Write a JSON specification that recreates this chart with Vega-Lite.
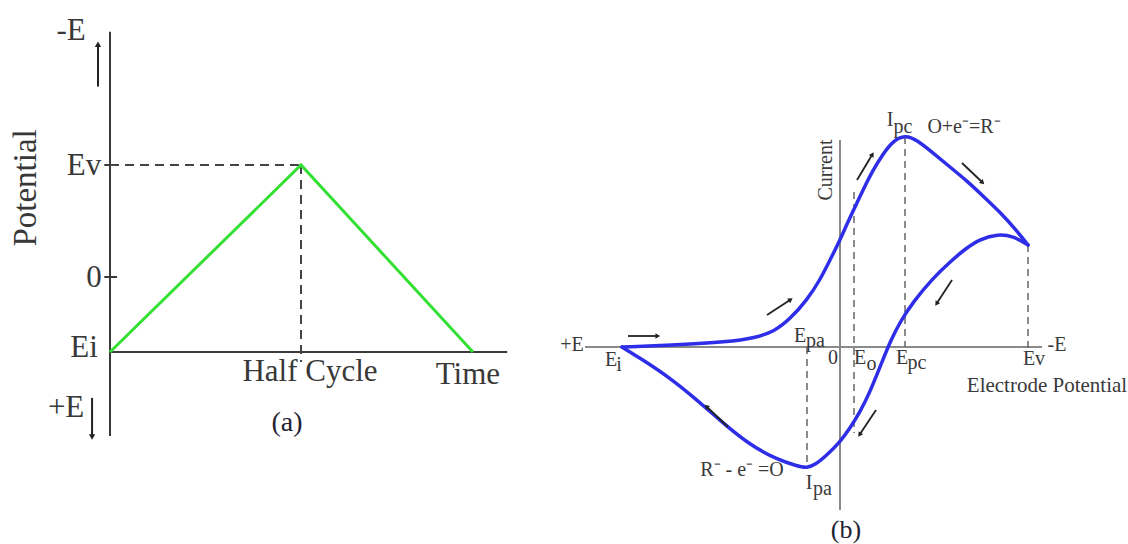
{
  "$schema": "https://vega.github.io/schema/vega-lite/v6.json",
  "background": "white",
  "padding": 0,
  "autosize": {"type": "pad"},
  "spacing": 0,
  "bounds": "flush",
  "config": {"view": {"stroke": null}, "font": "Liberation Serif"},
  "datasets": {
    "aFrame": [
      {"x": 0, "y": 2.19, "x2": 0, "y2": -1.42},
      {"x": 0, "y": -0.67, "x2": 2.08, "y2": -0.67},
      {"x": -0.03, "y": 0, "x2": 0.037, "y2": 0},
      {"x": -0.03, "y": 1, "x2": 0, "y2": 1}
    ],
    "aGuides": [
      {"x": 0, "y": 1, "x2": 1, "y2": 1},
      {"x": 1, "y": 1, "x2": 1, "y2": -0.76}
    ],
    "aSweep": [
      {"t": 0, "E": -0.67, "step": 0},
      {"t": 1, "E": 1, "step": 1},
      {"t": 1.9, "E": -0.67, "step": 2}
    ],
    "aArrows": [
      {"x": -0.063, "y": 1.70, "x2": -0.063, "y2": 2.07},
      {"x": -0.094, "y": -1.08, "x2": -0.094, "y2": -1.42}
    ],
    "aLabels": [
      {"x": -0.204, "y": 2.196, "text": "-E"},
      {"x": -0.136, "y": 0.99, "text": "Ev"},
      {"x": -0.084, "y": -0.01, "text": "0"},
      {"x": -0.136, "y": -0.63, "text": "Ei"},
      {"x": 1.047, "y": -0.85, "text": "Half Cycle"},
      {"x": 1.874, "y": -0.875, "text": "Time"},
      {"x": -0.23, "y": -1.17, "text": "+E"}
    ],
    "aCaption": [
      {"x": 0.927, "y": -1.30, "text": "(a)"}
    ],
    "bFrame": [
      {"x": -25.5, "y": 0, "x2": 20.2, "y2": 0},
      {"x": 0, "y": 20.7, "x2": 0, "y2": -16.3}
    ],
    "bGuides": [
      {"x": -3.3, "y": 0, "x2": -3.3, "y2": -12.2},
      {"x": 1.4, "y": 15.5, "x2": 1.4, "y2": -8.6},
      {"x": 6.5, "y": 21.0, "x2": 6.5, "y2": 0},
      {"x": 18.8, "y": 10.2, "x2": 18.8, "y2": -0.3}
    ],
    "cv": [
      {"branch": "forward", "k": 0, "x": -21.8, "y": 0.0},
      {"branch": "forward", "k": 1, "x": -16.3, "y": 0.2},
      {"branch": "forward", "k": 2, "x": -11.3, "y": 0.5},
      {"branch": "forward", "k": 3, "x": -8.5, "y": 0.9},
      {"branch": "forward", "k": 4, "x": -6.5, "y": 1.6},
      {"branch": "forward", "k": 5, "x": -5.0, "y": 2.8},
      {"branch": "forward", "k": 6, "x": -3.3, "y": 4.7},
      {"branch": "forward", "k": 7, "x": -2.0, "y": 6.7},
      {"branch": "forward", "k": 8, "x": -1.0, "y": 8.7},
      {"branch": "forward", "k": 9, "x": 0.0, "y": 10.7},
      {"branch": "forward", "k": 10, "x": 0.7, "y": 12.3},
      {"branch": "forward", "k": 11, "x": 1.5, "y": 14.0},
      {"branch": "forward", "k": 12, "x": 2.3, "y": 15.7},
      {"branch": "forward", "k": 13, "x": 3.3, "y": 17.7},
      {"branch": "forward", "k": 14, "x": 4.3, "y": 19.3},
      {"branch": "forward", "k": 15, "x": 5.3, "y": 20.6},
      {"branch": "forward", "k": 16, "x": 6.5, "y": 21.2},
      {"branch": "forward", "k": 17, "x": 7.7, "y": 20.7},
      {"branch": "forward", "k": 18, "x": 9.3, "y": 19.4},
      {"branch": "forward", "k": 19, "x": 11.0, "y": 18.0},
      {"branch": "forward", "k": 20, "x": 12.7, "y": 16.6},
      {"branch": "forward", "k": 21, "x": 14.3, "y": 15.1},
      {"branch": "forward", "k": 22, "x": 16.0, "y": 13.5},
      {"branch": "forward", "k": 23, "x": 17.7, "y": 11.6},
      {"branch": "forward", "k": 24, "x": 18.8, "y": 10.2},
      {"branch": "reverse", "k": 0, "x": 18.8, "y": 10.2},
      {"branch": "reverse", "k": 1, "x": 17.3, "y": 11.1},
      {"branch": "reverse", "k": 2, "x": 15.8, "y": 11.3},
      {"branch": "reverse", "k": 3, "x": 14.0, "y": 10.8},
      {"branch": "reverse", "k": 4, "x": 12.5, "y": 9.8},
      {"branch": "reverse", "k": 5, "x": 11.0, "y": 8.5},
      {"branch": "reverse", "k": 6, "x": 9.3, "y": 6.9},
      {"branch": "reverse", "k": 7, "x": 7.3, "y": 4.5},
      {"branch": "reverse", "k": 8, "x": 6.0, "y": 2.5},
      {"branch": "reverse", "k": 9, "x": 5.0, "y": 0.5},
      {"branch": "reverse", "k": 10, "x": 4.2, "y": -1.5},
      {"branch": "reverse", "k": 11, "x": 3.0, "y": -4.5},
      {"branch": "reverse", "k": 12, "x": 2.0, "y": -6.5},
      {"branch": "reverse", "k": 13, "x": 1.0, "y": -8.1},
      {"branch": "reverse", "k": 14, "x": 0.0, "y": -9.5},
      {"branch": "reverse", "k": 15, "x": -1.3, "y": -10.8},
      {"branch": "reverse", "k": 16, "x": -2.5, "y": -11.8},
      {"branch": "reverse", "k": 17, "x": -3.3, "y": -12.1},
      {"branch": "reverse", "k": 18, "x": -4.3, "y": -11.9},
      {"branch": "reverse", "k": 19, "x": -6.3, "y": -11.25},
      {"branch": "reverse", "k": 20, "x": -9.0, "y": -9.8},
      {"branch": "reverse", "k": 21, "x": -11.7, "y": -7.6},
      {"branch": "reverse", "k": 22, "x": -14.3, "y": -5.3},
      {"branch": "reverse", "k": 23, "x": -17.0, "y": -3.1},
      {"branch": "reverse", "k": 24, "x": -19.7, "y": -1.3},
      {"branch": "reverse", "k": 25, "x": -21.8, "y": 0.0}
    ],
    "bArrows": [
      {"x": -21.2, "y": 1.1, "x2": -18.3, "y2": 1.1},
      {"x": -7.3, "y": 3.2, "x2": -5.0, "y2": 4.7},
      {"x": 1.7, "y": 16.7, "x2": 3.2, "y2": 19.2},
      {"x": 12.2, "y": 18.4, "x2": 14.2, "y2": 16.5},
      {"x": 11.2, "y": 6.7, "x2": 9.7, "y2": 4.4},
      {"x": 3.6, "y": -6.3, "x2": 2.0, "y2": -8.7},
      {"x": -11.2, "y": -8.0, "x2": -13.3, "y2": -6.0}
    ],
    "bLabels": [
      {"x": -26.8, "y": 0.2, "text": "+E"},
      {"x": 21.7, "y": 0.2, "text": "-E"},
      {"x": -22.9, "y": -1.3, "text": "E"},
      {"x": -22.1, "y": -1.8, "text": "i"},
      {"x": -4.0, "y": 1.1, "text": "E"},
      {"x": -2.45, "y": 0.6, "text": "pa"},
      {"x": -0.7, "y": -1.05, "text": "0"},
      {"x": 2.0, "y": -1.1, "text": "E"},
      {"x": 3.15, "y": -1.7, "text": "o"},
      {"x": 6.2, "y": -1.1, "text": "E"},
      {"x": 7.7, "y": -1.6, "text": "pc"},
      {"x": 19.4, "y": -1.2, "text": "Ev"},
      {"x": 5.0, "y": 22.7, "text": "I"},
      {"x": 6.3, "y": 22.0, "text": "pc"},
      {"x": 12.4, "y": 22.0, "text": "O+e⁻=R⁻"},
      {"x": -9.8, "y": -12.3, "text": "R⁻ - e⁻ =O"},
      {"x": -3.1, "y": -13.6, "text": "I"},
      {"x": -1.75, "y": -14.2, "text": "pa"}
    ],
    "bTitles": [
      {"x": 20.7, "y": -3.9, "text": "Electrode Potential"}
    ],
    "bCaption": [
      {"x": 0.6, "y": -18.3, "text": "(b)"}
    ]
  },
  "hconcat": [
    {
      "width": 560,
      "height": 544,
      "layer": [
        {
          "data": {"name": "aFrame"},
          "mark": {"type": "rule", "color": "#3a3a3a", "strokeWidth": 2},
          "encoding": {
            "x": {"field": "x", "type": "quantitative", "scale": {"domain": [-0.576, 2.356], "nice": false, "zero": false}, "axis": null},
            "y": {"field": "y", "type": "quantitative", "scale": {"domain": [-2.384, 2.473], "nice": false, "zero": false}, "axis": null},
            "x2": {"field": "x2"},
            "y2": {"field": "y2"}
          }
        },
        {
          "data": {"name": "aGuides"},
          "mark": {"type": "rule", "color": "#444444", "strokeWidth": 2, "strokeDash": [9, 6]},
          "encoding": {
            "x": {"field": "x", "type": "quantitative", "scale": {"domain": [-0.576, 2.356], "nice": false, "zero": false}, "axis": null},
            "y": {"field": "y", "type": "quantitative", "scale": {"domain": [-2.384, 2.473], "nice": false, "zero": false}, "axis": null},
            "x2": {"field": "x2"},
            "y2": {"field": "y2"}
          }
        },
        {
          "data": {"name": "aSweep"},
          "mark": {"type": "line", "color": "#35e035", "strokeWidth": 3},
          "encoding": {
            "x": {"field": "t", "type": "quantitative", "scale": {"domain": [-0.576, 2.356], "nice": false, "zero": false}, "axis": null},
            "y": {"field": "E", "type": "quantitative", "scale": {"domain": [-2.384, 2.473], "nice": false, "zero": false}, "axis": null},
            "order": {"field": "step"}
          }
        },
        {
          "data": {"name": "aArrows"},
          "mark": {"type": "rule", "color": "#222222", "strokeWidth": 2},
          "encoding": {
            "x": {"field": "x", "type": "quantitative", "scale": {"domain": [-0.576, 2.356], "nice": false, "zero": false}, "axis": null},
            "y": {"field": "y", "type": "quantitative", "scale": {"domain": [-2.384, 2.473], "nice": false, "zero": false}, "axis": null},
            "x2": {"field": "x2"},
            "y2": {"field": "y2"}
          }
        },
        {
          "data": {"name": "aArrows"},
          "transform": [{"calculate": "atan2(datum.x2 - datum.x, datum.y2 - datum.y) * 180 / PI", "as": "heading"}],
          "mark": {"type": "point", "shape": "triangle", "filled": true, "color": "#222222", "size": 40, "opacity": 1},
          "encoding": {
            "x": {"field": "x2", "type": "quantitative", "scale": {"domain": [-0.576, 2.356], "nice": false, "zero": false}, "axis": null},
            "y": {"field": "y2", "type": "quantitative", "scale": {"domain": [-2.384, 2.473], "nice": false, "zero": false}, "axis": null},
            "angle": {"field": "heading", "type": "quantitative", "scale": null}
          }
        },
        {
          "data": {"name": "aLabels"},
          "mark": {"type": "text", "font": "Liberation Serif", "fontSize": 31, "color": "#383838", "align": "center", "baseline": "middle"},
          "encoding": {
            "x": {"field": "x", "type": "quantitative", "scale": {"domain": [-0.576, 2.356], "nice": false, "zero": false}, "axis": null},
            "y": {"field": "y", "type": "quantitative", "scale": {"domain": [-2.384, 2.473], "nice": false, "zero": false}, "axis": null},
            "text": {"field": "text"}
          }
        },
        {
          "data": {"name": "aCaption"},
          "mark": {"type": "text", "font": "Liberation Serif", "fontSize": 28, "color": "#222233", "align": "center", "baseline": "middle"},
          "encoding": {
            "x": {"field": "x", "type": "quantitative", "scale": {"domain": [-0.576, 2.356], "nice": false, "zero": false}, "axis": null},
            "y": {"field": "y", "type": "quantitative", "scale": {"domain": [-2.384, 2.473], "nice": false, "zero": false}, "axis": null},
            "text": {"field": "text"}
          }
        },
        {
          "data": {"values": [{"x": -0.44, "y": 0.795, "text": "Potential"}]},
          "mark": {"type": "text", "font": "Liberation Serif", "fontSize": 33, "color": "#383838", "align": "center", "baseline": "middle", "angle": 270},
          "encoding": {
            "x": {"field": "x", "type": "quantitative", "scale": {"domain": [-0.576, 2.356], "nice": false, "zero": false}, "axis": null},
            "y": {"field": "y", "type": "quantitative", "scale": {"domain": [-2.384, 2.473], "nice": false, "zero": false}, "axis": null},
            "text": {"field": "text"}
          }
        }
      ]
    },
    {
      "width": 568,
      "height": 544,
      "layer": [
        {
          "data": {"name": "bFrame"},
          "mark": {"type": "rule", "color": "#8a8a8a", "strokeWidth": 2},
          "encoding": {
            "x": {"field": "x", "type": "quantitative", "scale": {"domain": [-28, 28.8], "nice": false, "zero": false}, "axis": null},
            "y": {"field": "y", "type": "quantitative", "scale": {"domain": [-19.7, 34.7], "nice": false, "zero": false}, "axis": null},
            "x2": {"field": "x2"},
            "y2": {"field": "y2"}
          }
        },
        {
          "data": {"name": "bGuides"},
          "mark": {"type": "rule", "color": "#666666", "strokeWidth": 1.5, "strokeDash": [7, 5]},
          "encoding": {
            "x": {"field": "x", "type": "quantitative", "scale": {"domain": [-28, 28.8], "nice": false, "zero": false}, "axis": null},
            "y": {"field": "y", "type": "quantitative", "scale": {"domain": [-19.7, 34.7], "nice": false, "zero": false}, "axis": null},
            "x2": {"field": "x2"},
            "y2": {"field": "y2"}
          }
        },
        {
          "data": {"name": "cv"},
          "mark": {"type": "line", "color": "#2e2ee8", "strokeWidth": 3.5, "interpolate": "basis", "strokeCap": "round", "strokeJoin": "round"},
          "encoding": {
            "x": {"field": "x", "type": "quantitative", "scale": {"domain": [-28, 28.8], "nice": false, "zero": false}, "axis": null},
            "y": {"field": "y", "type": "quantitative", "scale": {"domain": [-19.7, 34.7], "nice": false, "zero": false}, "axis": null},
            "detail": {"field": "branch"},
            "order": {"field": "k"}
          }
        },
        {
          "data": {"name": "bArrows"},
          "mark": {"type": "rule", "color": "#222222", "strokeWidth": 1.8},
          "encoding": {
            "x": {"field": "x", "type": "quantitative", "scale": {"domain": [-28, 28.8], "nice": false, "zero": false}, "axis": null},
            "y": {"field": "y", "type": "quantitative", "scale": {"domain": [-19.7, 34.7], "nice": false, "zero": false}, "axis": null},
            "x2": {"field": "x2"},
            "y2": {"field": "y2"}
          }
        },
        {
          "data": {"name": "bArrows"},
          "transform": [{"calculate": "atan2(datum.x2 - datum.x, datum.y2 - datum.y) * 180 / PI", "as": "heading"}],
          "mark": {"type": "point", "shape": "triangle", "filled": true, "color": "#222222", "size": 30, "opacity": 1},
          "encoding": {
            "x": {"field": "x2", "type": "quantitative", "scale": {"domain": [-28, 28.8], "nice": false, "zero": false}, "axis": null},
            "y": {"field": "y2", "type": "quantitative", "scale": {"domain": [-19.7, 34.7], "nice": false, "zero": false}, "axis": null},
            "angle": {"field": "heading", "type": "quantitative", "scale": null}
          }
        },
        {
          "data": {"name": "bLabels"},
          "mark": {"type": "text", "font": "Liberation Serif", "fontSize": 20, "color": "#3a3a3a", "align": "center", "baseline": "middle"},
          "encoding": {
            "x": {"field": "x", "type": "quantitative", "scale": {"domain": [-28, 28.8], "nice": false, "zero": false}, "axis": null},
            "y": {"field": "y", "type": "quantitative", "scale": {"domain": [-19.7, 34.7], "nice": false, "zero": false}, "axis": null},
            "text": {"field": "text"}
          }
        },
        {
          "data": {"name": "bTitles"},
          "mark": {"type": "text", "font": "Liberation Serif", "fontSize": 21, "color": "#3a3a3a", "align": "center", "baseline": "middle"},
          "encoding": {
            "x": {"field": "x", "type": "quantitative", "scale": {"domain": [-28, 28.8], "nice": false, "zero": false}, "axis": null},
            "y": {"field": "y", "type": "quantitative", "scale": {"domain": [-19.7, 34.7], "nice": false, "zero": false}, "axis": null},
            "text": {"field": "text"}
          }
        },
        {
          "data": {"name": "bCaption"},
          "mark": {"type": "text", "font": "Liberation Serif", "fontSize": 26, "color": "#222233", "align": "center", "baseline": "middle"},
          "encoding": {
            "x": {"field": "x", "type": "quantitative", "scale": {"domain": [-28, 28.8], "nice": false, "zero": false}, "axis": null},
            "y": {"field": "y", "type": "quantitative", "scale": {"domain": [-19.7, 34.7], "nice": false, "zero": false}, "axis": null},
            "text": {"field": "text"}
          }
        },
        {
          "data": {"values": [{"x": -1.4, "y": 17.7, "text": "Current"}]},
          "mark": {"type": "text", "font": "Liberation Serif", "fontSize": 20, "color": "#3a3a3a", "align": "center", "baseline": "middle", "angle": 270},
          "encoding": {
            "x": {"field": "x", "type": "quantitative", "scale": {"domain": [-28, 28.8], "nice": false, "zero": false}, "axis": null},
            "y": {"field": "y", "type": "quantitative", "scale": {"domain": [-19.7, 34.7], "nice": false, "zero": false}, "axis": null},
            "text": {"field": "text"}
          }
        }
      ]
    }
  ]
}
